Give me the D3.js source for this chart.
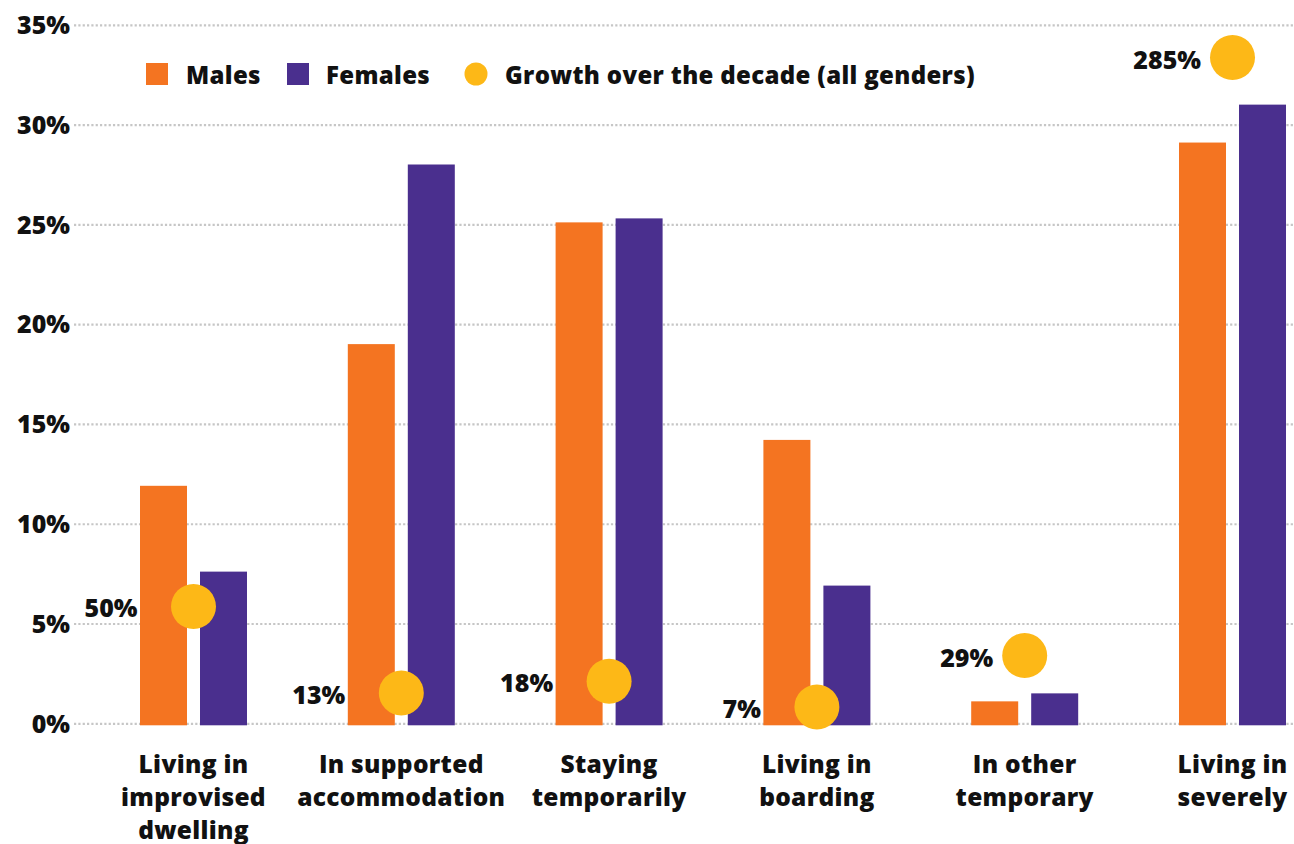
<!DOCTYPE html>
<html>
<head>
<meta charset="utf-8">
<script src="https://cdn.jsdelivr.net/npm/d3@7/dist/d3.min.js"></script>
<style>
  html, body { margin: 0; padding: 0; background: #ffffff; }
  svg { display: block; }
  text { font-family: "Open Sans", "DejaVu Sans", sans-serif; font-weight: 800; fill: #111111; }
</style>
</head>
<body>
<svg id="chart" width="1294" height="844"></svg>
<script>
// Share of people in each homelessness category, by gender (%)
const categories = [
  ["Living in", "improvised", "dwelling"],
  ["In supported", "accommodation"],
  ["Staying", "temporarily"],
  ["Living in", "boarding"],
  ["In other", "temporary"],
  ["Living in", "severely"]
];
const categoryKeys = ["improvised", "supported", "staying", "boarding", "other", "severely"];
const males   = [11.9, 19.0, 25.1, 14.2, 1.1, 29.1];
const females = [7.6, 28.0, 25.3, 6.9, 1.5, 31.0];
// Growth over the decade, all genders (%)
const growth  = [50, 13, 18, 7, 29, 285];
const yTicks  = [0, 5, 10, 15, 20, 25, 30, 35];

const COLORS = { males: "#F47421", females: "#4A2F8E", growth: "#FDB817", grid: "#c6c6c6" };

const svg = d3.select("#chart");
const width = 1294;

const y = d3.scaleLinear().domain([0, 35]).range([723.3, 24.8]);
// Growth dots use their own scale sharing the same baseline
const yGrowth = d3.scaleLinear().domain([0, 299]).range([723.3, 24.8]);
const x = d3.scalePoint().domain(categoryKeys).range([193.5, 1232.5]);

const barW = 47, barGap = 13, dotR = 22.5;

// Grid lines and y tick labels
const yAxis = d3.axisLeft(y)
  .tickValues(yTicks)
  .tickSize(-(width - 74))
  .tickPadding(4)
  .tickFormat(d => d + "%");
const gy = svg.append("g").attr("transform", "translate(74,0)").call(yAxis);
gy.select(".domain").remove();
gy.selectAll(".tick line")
  .attr("stroke", COLORS.grid)
  .attr("stroke-width", 2.2)
  .attr("stroke-dasharray", "2.2 2.13");
gy.selectAll(".tick text")
  .attr("x", -4)
  .attr("dy", "0.35em")
  .attr("font-size", 25)
  .style("fill", "#111");

// Bars
const rows = categoryKeys.map((k, i) => ({ key: k, m: males[i], f: females[i], g: growth[i], label: categories[i] }));
const base = y(0) + 2;

svg.append("g").selectAll("rect.m").data(rows).join("rect")
  .attr("x", d => x(d.key) - barGap / 2 - barW)
  .attr("width", barW)
  .attr("y", d => y(d.m))
  .attr("height", d => base - y(d.m))
  .attr("fill", COLORS.males);

svg.append("g").selectAll("rect.f").data(rows).join("rect")
  .attr("x", d => x(d.key) + barGap / 2)
  .attr("width", barW)
  .attr("y", d => y(d.f))
  .attr("height", d => base - y(d.f))
  .attr("fill", COLORS.females);

// Growth dots with their labels
svg.append("g").selectAll("circle").data(rows).join("circle")
  .attr("cx", d => x(d.key))
  .attr("cy", d => yGrowth(d.g))
  .attr("r", dotR)
  .attr("fill", COLORS.growth);

svg.append("g").selectAll("text").data(rows).join("text")
  .attr("text-anchor", "end")
  .attr("dominant-baseline", "central")
  .attr("font-size", 25)
  .attr("x", d => {
    const cy = yGrowth(d.g);
    const overBars = cy + dotR > Math.min(y(d.m), y(d.f));
    // beside the male bar when the dot sits on the bars, else next to the dot
    return overBars ? x(d.key) - barGap / 2 - barW - 2.5 : x(d.key) - dotR - 9;
  })
  .attr("y", d => yGrowth(d.g) + 1)
  .text(d => d.g + "%");

// Category labels
const catG = svg.append("g").selectAll("text").data(rows).join("text")
  .attr("text-anchor", "middle")
  .attr("font-size", 24.5)
  .attr("letter-spacing", 0.3)
  .attr("x", d => x(d.key))
  .attr("y", 772.5);
catG.selectAll("tspan").data(d => d.label.map(t => ({ t, cx: x(d.key) }))).join("tspan")
  .attr("x", d => d.cx)
  .attr("dy", (d, i) => i === 0 ? 0 : 33)
  .text(d => d.t);

// Legend
const legend = svg.append("g").attr("font-size", 24).attr("letter-spacing", 0.33);
legend.append("rect").attr("x", 146).attr("y", 63).attr("width", 22).attr("height", 22).attr("fill", COLORS.males);
legend.append("text").attr("x", 186).attr("y", 83.5).text("Males");
legend.append("rect").attr("x", 287).attr("y", 63).attr("width", 22).attr("height", 22).attr("fill", COLORS.females);
legend.append("text").attr("x", 326).attr("y", 83.5).text("Females");
legend.append("circle").attr("cx", 476).attr("cy", 74).attr("r", 11.5).attr("fill", COLORS.growth);
legend.append("text").attr("x", 505).attr("y", 83.5).text("Growth over the decade (all genders)");
</script>
</body>
</html>
